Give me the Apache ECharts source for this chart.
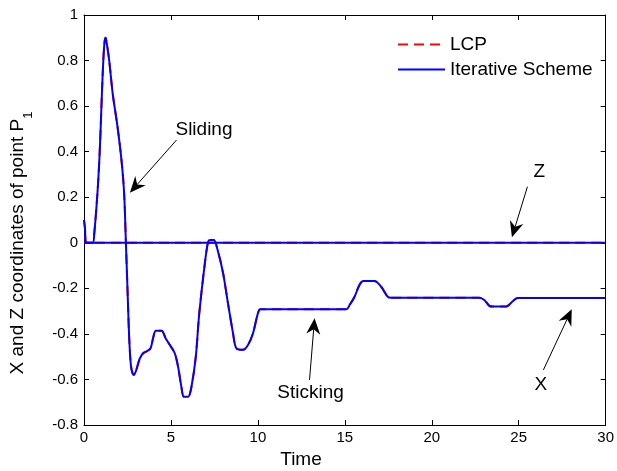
<!DOCTYPE html>
<html><head><meta charset="utf-8">
<script src="https://cdn.jsdelivr.net/npm/echarts@6/dist/echarts.min.js"></script>
<style>html,body{margin:0;padding:0;background:#fff}#c{width:617px;height:471px}</style>
</head><body><div id="c"></div>
<script>
// X coordinate of point P1 (time, value)
const timeX = [0, 0.12, 0.5, 0.59, 0.77, 0.88, 0.96, 1.03, 1.11, 1.18, 1.245, 1.32, 1.45, 1.65, 1.93, 2.16, 2.31, 2.41, 2.5, 2.6, 2.7, 2.8, 2.87, 3.0, 3.2, 3.4, 3.64, 3.83, 4.0, 4.13, 4.46, 4.7, 4.94, 5.22, 5.41, 5.6, 5.74, 5.99, 6.18, 6.43, 6.62, 6.95, 7.14, 7.27, 7.46, 7.71, 8.0, 8.28, 8.57, 8.76, 9.14, 9.43, 9.72, 10.0, 10.14, 11.25, 15.08, 15.3, 15.56, 15.84, 16.07, 16.7, 17.09, 17.47, 17.66, 22.73, 23.02, 23.31, 23.5, 24.27, 24.64, 24.93, 30];
const valuesX = [0, 0, 0, 0.04, 0.214, 0.36, 0.508, 0.655, 0.8, 0.88, 0.9, 0.87, 0.8, 0.655, 0.508, 0.36, 0.214, 0, -0.2, -0.42, -0.54, -0.575, -0.58, -0.56, -0.51, -0.485, -0.475, -0.463, -0.41, -0.386, -0.386, -0.42, -0.449, -0.485, -0.544, -0.632, -0.676, -0.676, -0.632, -0.5, -0.317, -0.09, 0.005, 0.012, 0.012, -0.039, -0.134, -0.266, -0.397, -0.463, -0.47, -0.449, -0.397, -0.31, -0.292, -0.292, -0.292, -0.27, -0.237, -0.185, -0.168, -0.168, -0.193, -0.237, -0.241, -0.241, -0.251, -0.277, -0.28, -0.28, -0.258, -0.242, -0.242];
// Z coordinate of point P1
const timeZ = [0, 0.06, 0.12, 30];
const valuesZ = [0.1, 0.06, 0, 0];

const xTicks = [0, 5, 10, 15, 20, 25, 30];
const yTicks = [-0.8, -0.6, -0.4, -0.2, 0, 0.2, 0.4, 0.6, 0.8, 1];
const methodNames = ['LCP', 'Iterative Scheme'];
const xTitle = 'Time';
const yTitle = 'X and Z coordinates of point P{sub|1}';

const annotations = [
  {text: 'Sliding',  label: [6.9, 0.498],   from: [5.32, 0.451],  to: [2.64, 0.22]},
  {text: 'Z',        label: [26.18, 0.312], from: [25.5, 0.246],  to: [24.61, 0.024]},
  {text: 'Sticking', label: [13.03, -0.658], from: [12.97, -0.602], to: [13.26, -0.331]},
  {text: 'X',        label: [26.27, -0.624], from: [26.42, -0.558], to: [28.05, -0.292]}
];

const pairs = (t, v) => t.map((x, i) => [x, v[i]]);
const FONT = 'Liberation Sans, Arial, sans-serif';

const chart = echarts.init(document.getElementById('c'), null, {renderer: 'canvas'});

const lineSeries = (name, data, style, z) => ({
  name, type: 'line', data, symbol: 'none', smooth: 0.3, z,
  lineStyle: style, itemStyle: {color: style.color}, animation: false
});
const lcpStyle = {color: '#ff0000', width: 2, type: [10, 6]};
const itStyle = {color: '#0000ff', width: 2, type: 'solid'};

const axisCommon = {
  axisLine: {show: true, onZero: false, lineStyle: {color: '#000', width: 1}},
  axisTick: {show: true, inside: true, length: 5, lineStyle: {color: '#000'}},
  splitLine: {show: false}
};

chart.setOption({
  animation: false,
  textStyle: {fontFamily: FONT},
  grid: {left: 84, right: 10, top: 15, bottom: 46, containLabel: false},
  legend: {
    data: methodNames, orient: 'vertical', left: 397, top: 35, padding: 0,
    itemWidth: 47, itemHeight: 14, itemGap: 6,
    itemStyle: {opacity: 0},
    textStyle: {fontSize: 19, color: '#000', fontFamily: FONT}
  },
  xAxis: [
    Object.assign({type: 'value', min: xTicks[0], max: xTicks[xTicks.length - 1], interval: 5,
      axisLabel: {fontSize: 15, color: '#000', margin: 5, fontFamily: FONT}}, axisCommon),
    Object.assign({type: 'value', position: 'top', min: xTicks[0], max: xTicks[xTicks.length - 1], interval: 5,
      axisLabel: {show: false}}, axisCommon)
  ],
  yAxis: [
    Object.assign({type: 'value', min: yTicks[0], max: yTicks[yTicks.length - 1], interval: 0.2,
      axisLabel: {fontSize: 15, color: '#000', margin: 6, fontFamily: FONT,
        formatter: v => String(Math.round(v * 10) / 10)}}, axisCommon),
    Object.assign({type: 'value', position: 'right', min: yTicks[0], max: yTicks[yTicks.length - 1], interval: 0.2,
      axisLabel: {show: false}}, axisCommon)
  ],
  series: [
    lineSeries(methodNames[0], pairs(timeX, valuesX), lcpStyle, 2),
    lineSeries(methodNames[0], pairs(timeZ, valuesZ), lcpStyle, 2),
    lineSeries(methodNames[1], pairs(timeX, valuesX), itStyle, 3),
    lineSeries(methodNames[1], pairs(timeZ, valuesZ), itStyle, 3)
  ]
});

// axis titles and annotations (arrows + text)
const g = [];
g.push({type: 'text', x: 301, y: 460, style: {text: xTitle, fontSize: 19, fontFamily: FONT, fill: '#000', align: 'center', verticalAlign: 'middle'}});
g.push({type: 'text', x: 18, y: 243, rotation: Math.PI / 2,
  style: {text: yTitle, fontSize: 19, fontFamily: FONT, fill: '#000', align: 'center', verticalAlign: 'middle',
    rich: {sub: {fontSize: 13, fontFamily: FONT, fill: '#000', verticalAlign: 'bottom', lineHeight: 13, padding: [0, 0, -7, 0]}}}});
annotations.forEach(a => {
  const p0 = chart.convertToPixel({gridIndex: 0}, a.from);
  const p1 = chart.convertToPixel({gridIndex: 0}, a.to);
  const pl = chart.convertToPixel({gridIndex: 0}, a.label);
  const dx = p1[0] - p0[0], dy = p1[1] - p0[1];
  const len = Math.hypot(dx, dy), ux = dx / len, uy = dy / len;
  const L = 16, W = 7, N = 11;
  const bx = p1[0] - ux * L, by = p1[1] - uy * L;
  const nx = p1[0] - ux * N, ny = p1[1] - uy * N;
  g.push({type: 'line', shape: {x1: p0[0], y1: p0[1], x2: nx, y2: ny}, style: {stroke: '#000', lineWidth: 1}, z: 10});
  g.push({type: 'polygon', shape: {points: [[p1[0], p1[1]], [bx - uy * W, by + ux * W], [nx, ny], [bx + uy * W, by - ux * W]]},
    style: {fill: '#000'}, z: 10});
  g.push({type: 'text', x: pl[0], y: pl[1], style: {text: a.text, fontSize: 19, fontFamily: FONT, fill: '#000', align: 'center', verticalAlign: 'middle'}, z: 10});
});
chart.setOption({graphic: g});
</script></body></html>
